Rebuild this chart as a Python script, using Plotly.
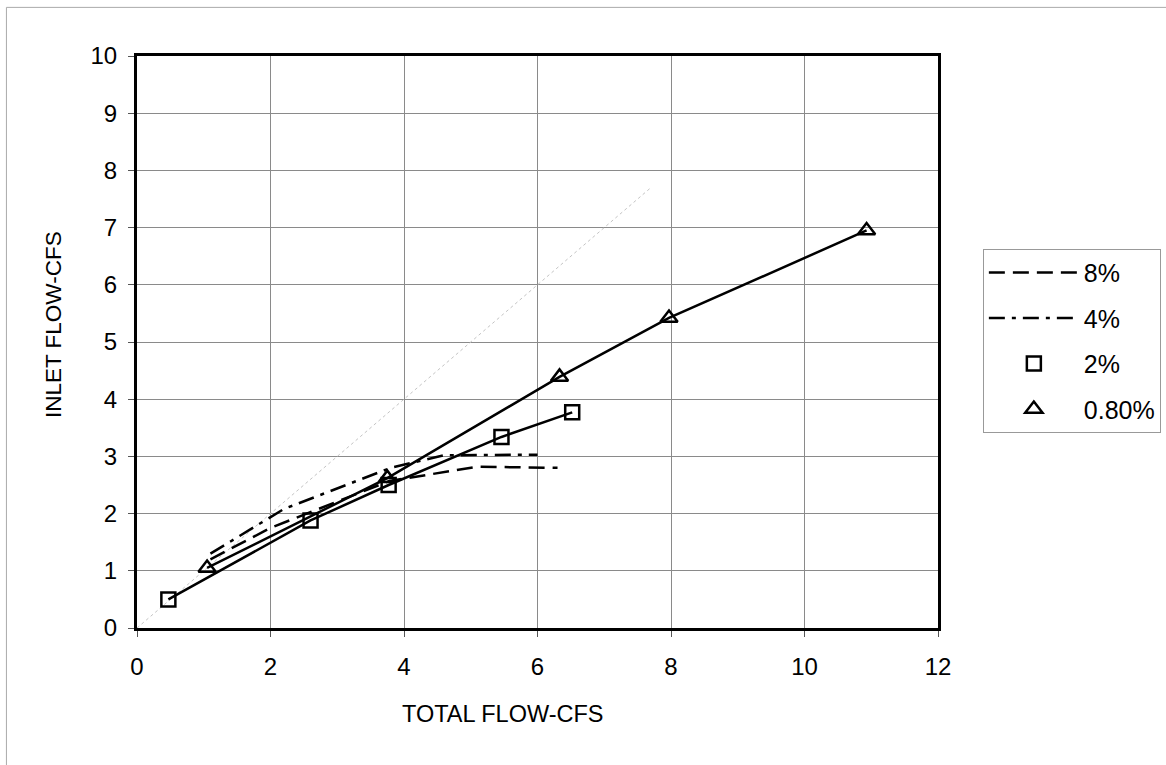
import plotly.graph_objects as go

# ---- data ----
x_8 = [1.1, 2.0, 3.78, 5.1, 6.3]
y_8 = [1.2, 1.75, 2.57, 2.82, 2.8]

x_4 = [1.1, 2.2, 3.8, 4.6, 6.0]
y_4 = [1.3, 2.08, 2.8, 3.02, 3.03]

x_2 = [0.47, 2.6, 3.77, 5.46, 6.52]
y_2 = [0.5, 1.88, 2.5, 3.34, 3.77]

x_08 = [1.05, 3.75, 6.33, 7.97, 10.93]
y_08 = [1.05, 2.62, 4.39, 5.42, 6.95]

diag_x = [0, 7.7]
diag_y = [0, 7.7]

x_ticks = [0, 2, 4, 6, 8, 10, 12]
y_ticks = list(range(0, 11))

FONT = "Liberation Sans, Arial, sans-serif"

fig = go.Figure()

# faint y = x reference line
fig.add_trace(go.Scatter(x=diag_x, y=diag_y, mode="lines",
                         line=dict(color="#c4c4c4", width=1, dash="dot"),
                         showlegend=False, hoverinfo="skip"))

fig.add_trace(go.Scatter(x=x_8, y=y_8, mode="lines", name="8%", legendgroup="a",
                         line=dict(color="black", width=2.5, dash="16px,8px")))
fig.add_trace(go.Scatter(x=x_4, y=y_4, mode="lines", name="4%", legendgroup="b",
                         line=dict(color="black", width=2.5, dash="16px,7px,4px,7px")))

# 2% : line + markers (legend shows marker only)
fig.add_trace(go.Scatter(x=x_2, y=y_2, mode="lines", showlegend=False,
                         line=dict(color="black", width=2.5)))
fig.add_trace(go.Scatter(x=x_2, y=y_2, mode="markers", name="2%", legendgroup="c",
                         marker=dict(symbol="square-open", size=14, color="black",
                                     line=dict(width=2.5, color="black"))))

# 0.80% : line + markers
fig.add_trace(go.Scatter(x=x_08, y=y_08, mode="lines", showlegend=False,
                         line=dict(color="black", width=2.5)))
fig.add_trace(go.Scatter(x=x_08, y=y_08, mode="markers", name="0.80%", legendgroup="d",
                         marker=dict(symbol="triangle-up-open", size=15, color="black",
                                     line=dict(width=2.5, color="black"))))

axis_common = dict(
    showline=True, linecolor="black", linewidth=3, mirror=True,
    showgrid=True, gridcolor="#8a8a8a", gridwidth=1,
    zeroline=False, ticks="outside", ticklen=6, tickcolor="#555",
    tickfont=dict(family=FONT, size=24, color="black"),
)

fig.update_xaxes(range=[0, 12], tickvals=x_ticks, ticklabelstandoff=9, **axis_common)
fig.update_yaxes(range=[0, 10], tickvals=y_ticks, ticklabelstandoff=6, **axis_common)

fig.update_layout(
    width=1166, height=765,
    margin=dict(l=137, r=228, t=56, b=137, autoexpand=False),
    paper_bgcolor="white", plot_bgcolor="white",
    font=dict(family=FONT, size=24, color="black"),
    legend=dict(x=1.056, y=0.663, xanchor="left", yanchor="top",
                bordercolor="#999", borderwidth=1, bgcolor="white",
                font=dict(family=FONT, size=25, color="black"),
                tracegroupgap=10, itemwidth=90),
    annotations=[
        dict(text="TOTAL FLOW-CFS", xref="paper", yref="paper",
             x=(503 - 137) / 801, y=-(714 - 628) / 572,
             xanchor="center", yanchor="middle", showarrow=False,
             font=dict(family=FONT, size=23.5, color="black")),
        dict(text="INLET FLOW-CFS", xref="paper", yref="paper",
             x=-(137 - 53) / 801, y=(628 - 325) / 572, textangle=-90,
             xanchor="center", yanchor="middle", showarrow=False,
             font=dict(family=FONT, size=22.5, color="black")),
    ],
    shapes=[
        dict(type="line", xref="paper", yref="paper", x0=-0.163, x1=1.3,
             y0=1.085, y1=1.085, line=dict(color="#aaa", width=1)),
        dict(type="line", xref="paper", yref="paper", x0=-0.163, x1=-0.163,
             y0=1.085, y1=-0.24, line=dict(color="#aaa", width=1)),
    ],
)

fig.write_html("out.html")
